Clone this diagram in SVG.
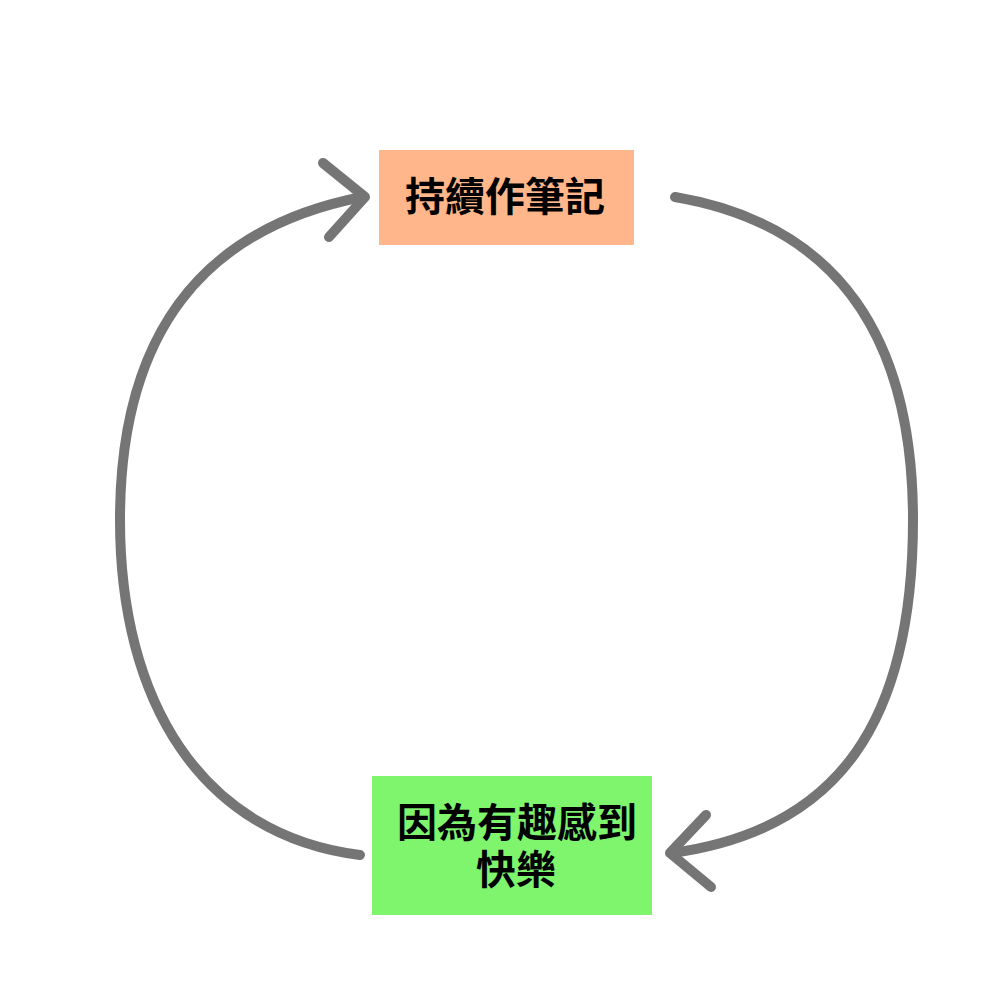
<svg xmlns="http://www.w3.org/2000/svg" width="1000" height="1000" viewBox="0 0 1000 1000">
<style>
.lbl{font-family:"Noto Sans CJK TC","Noto Sans CJK SC",sans-serif;font-weight:bold;font-size:40px;fill:#000;text-anchor:middle}
.con{fill:none;stroke:#757575;stroke-width:10;stroke-linecap:round;stroke-linejoin:round}
</style>
<rect width="1000" height="1000" fill="#fff"/>
<g id="connectors">
<g id="c-left">
<path class="con" d="M360,855 C200,835 120,700 120,520 C120,330 205,228 362,197"/>
<polyline class="con" points="323,163 365,197 329,237"/>
</g>
<g id="c-right">
<path class="con" d="M675,197 C840,225 913,340 913,520 C913,720 840,830 672,853"/>
<polyline class="con" points="706,815 670,853 711,887"/>
</g>
</g>
<g id="node-top">
<rect x="379" y="150" width="255" height="95" fill="#FFB68A"/>
<text class="lbl" x="505" y="211">持續作筆記</text>
</g>
<g id="node-bottom">
<rect x="372" y="776" width="280" height="139" fill="#7EF56D"/>
<text class="lbl"><tspan x="517" y="837">因為有趣感到</tspan><tspan x="516" y="884">快樂</tspan></text>
</g>
</svg>
